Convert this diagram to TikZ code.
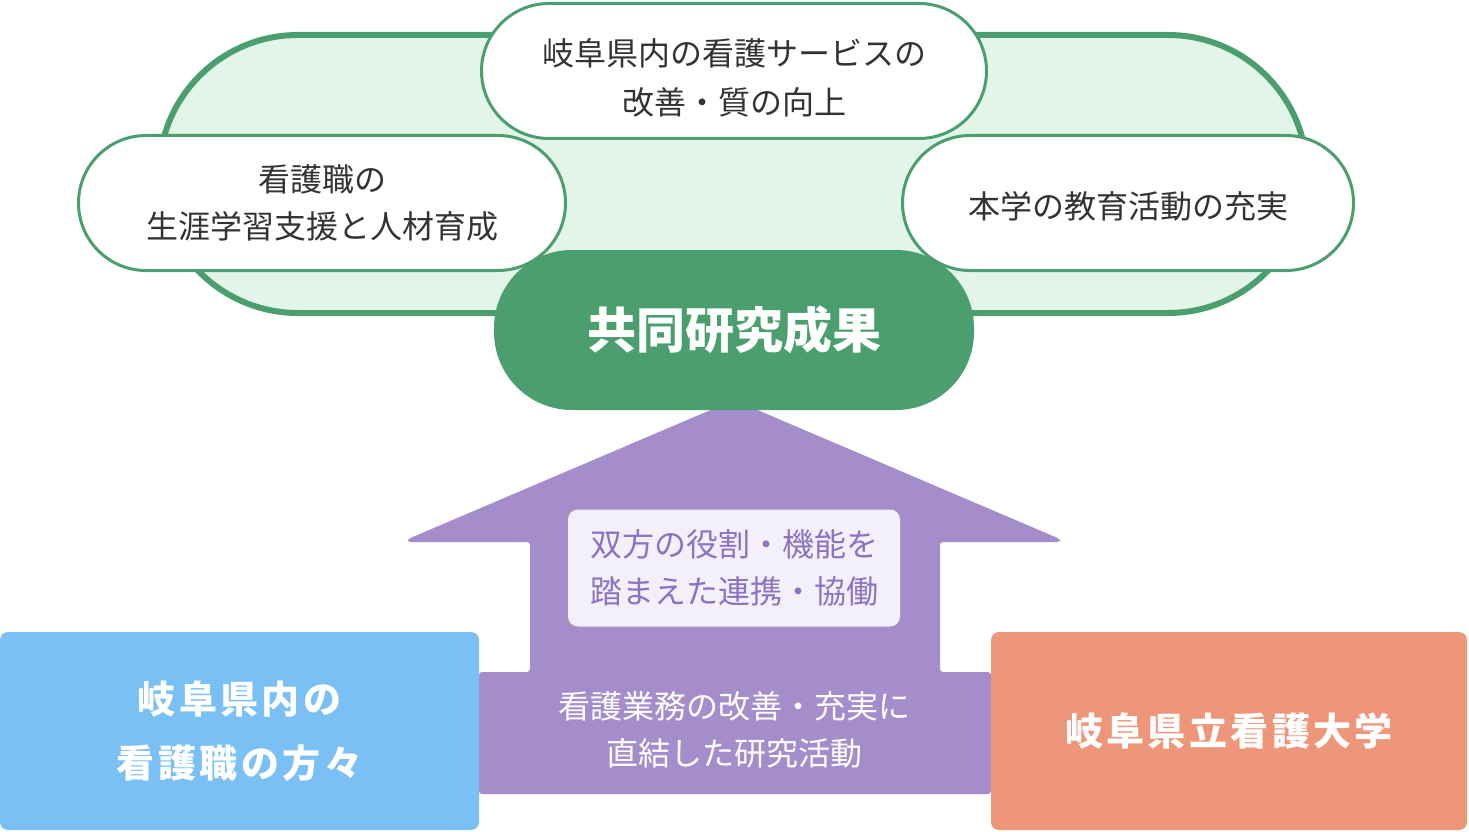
\documentclass[tikz,border=0pt]{standalone}
\usepackage{fontspec}
\setmainfont{Noto Sans CJK JP}
\newfontfamily\jpwide[LetterSpace=9]{Noto Sans CJK JP}
\usetikzlibrary{positioning}
\definecolor{leaf}{HTML}{4B9F6F}
\definecolor{mist}{HTML}{E3F5E8}
\definecolor{ink}{HTML}{333333}
\definecolor{lilac}{HTML}{A58DCB}
\definecolor{lilacpale}{HTML}{F4F0FA}
\definecolor{lilacdark}{HTML}{8E72C2}
\definecolor{sky}{HTML}{7BC0F5}
\definecolor{salmon}{HTML}{EE967A}

\begin{document}
\begin{tikzpicture}[x=1pt,y=-1pt]
                \tikzstyle{every node}=[inner sep=0pt, align=center]
                \tikzstyle{goal}=[draw=leaf, line width=3pt, fill=white, rounded corners=67.5pt,
                        minimum height=135pt, text=ink, font=\fontsize{32}{47}\selectfont]
                \tikzstyle{party}=[rounded corners=8pt, minimum width=479pt, minimum height=198pt,
                        text=white, font=\jpwide\bfseries\fontsize{38}{64}\selectfont]
                \useasboundingbox (0,0) rectangle (1469,832);

                % outcome area
                \node[draw=leaf, line width=6pt, fill=mist, rounded corners=139pt,
                        minimum width=1148pt, minimum height=278pt] (field) at (733,174) {};
                \node[goal, minimum width=505pt] (service) at (734,71) {};
                \node[text=ink, font=\fontsize{32}{49}\selectfont] (servicetext) at (734,78) {岐阜県内の看護サービスの\\改善・質の向上};
                \node[goal, minimum width=487pt] (career) at (322,203) {看護職の\\生涯学習支援と人材育成};
                \node[goal, minimum width=451pt] (edu) at (1128,203) {};
                \node[text=ink, font=\fontsize{32}{47}\selectfont] (edutext) at (1128,206) {本学の教育活動の充実};

                % arrow
                \fill[lilac, rounded corners=3pt] (734,400) -- (1060,539) -- (1060,542) -- (940,542)
                        -- (940,672) -- (991,672) -- (991,794) -- (479,794) -- (479,672) -- (530,672)
                        -- (530,542) -- (408,542) -- (408,539) -- cycle;

                \node[fill=leaf, rounded corners=78pt, minimum width=480pt, minimum height=160pt,
                        text=white, font=\bfseries\fontsize{49}{55}\selectfont] (result) at (734,330) {共同研究成果};
                \node[fill=lilacpale, rounded corners=10pt, minimum width=332pt, minimum height=117pt,
                        text=lilacdark, font=\fontsize{32}{47}\selectfont] (ways) at (734,568) {双方の役割・機能を\\踏まえた連携・協働};
                \node[text=white, font=\fontsize{32}{47}\selectfont] (work) at (734,730) {看護業務の改善・充実に\\直結した研究活動};

                % partners
                \node[party, fill=sky] (nurses) at (239.5,731) {岐阜県内の\\看護職の方々};
                \node[party, fill=salmon, minimum width=476pt] (univ) at (1229,731) {岐阜県立看護大学};
\end{tikzpicture}
\end{document}
